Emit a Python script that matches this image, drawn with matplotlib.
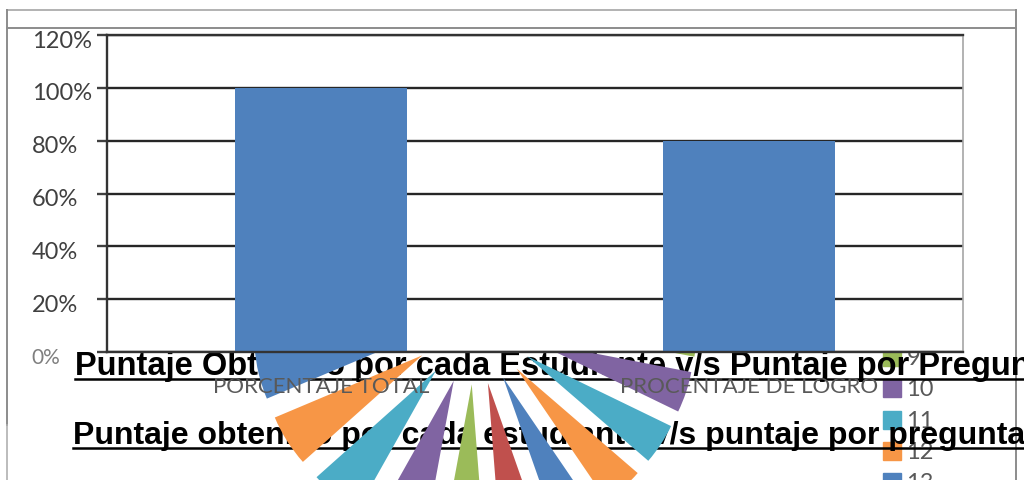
import matplotlib
matplotlib.use('Agg')
import matplotlib.pyplot as plt
from matplotlib.lines import Line2D
from matplotlib.transforms import ScaledTranslation

# bar chart data
categories = ['PORCENTAJE TOTAL', 'PROCENTAJE DE LOGRO']
percentages = [1.00, 0.80]
y_ticks = [0, 0.2, 0.4, 0.6, 0.8, 1.0, 1.2]

# pie chart behind it (one slice per question)
questions = ['1', '2', '3', '4', '5', '6', '7', '8', '9', '10', '11', '12',
             '13', '14', '15', '16', '17', '18', '19', '20', '21', '22', '23', '24']
scores = [14, 14, 14, 14, 14, 14, 14, 14, 14, 15, 15, 15,
          15, 15, 15, 19, 19, 19, 19, 14, 14, 14, 14, 14]

title_1 = 'Puntaje Obtenido por cada Estudiante v/s Puntaje por Pregunta'
title_2 = 'Puntaje obtenido por cada estudiante v/s puntaje por pregunta'

palette = ['#4F81BD', '#C0504D', '#9BBB59', '#8064A2', '#4BACC6', '#F79646']
slice_colors = [palette[i % len(palette)] for i in range(len(questions))]

W, H = 1024, 480
fig = plt.figure(figsize=(W / 100, H / 100), dpi=100)


def box(x0, y0, x1, y1):
    # pixel box measured from the top-left corner -> figure fraction rect
    return [x0 / W, 1 - y1 / H, (x1 - x0) / W, (y1 - y0) / H]


def hline(x0, x1, y, **kw):
    fig.add_artist(Line2D([x0 / W, x1 / W], [1 - y / H, 1 - y / H],
                          transform=fig.transFigure, **kw))


def vline(x, y0, y1, **kw):
    fig.add_artist(Line2D([x / W, x / W], [1 - y0 / H, 1 - y1 / H],
                          transform=fig.transFigure, **kw))


# page / chart frame
hline(7, 1016, 10, color='#a6a6a6', lw=1.2, zorder=0.1)
hline(7, 1016, 28, color='#8c8c8c', lw=1.4, zorder=0.1)
vline(7, 10, 425, color='#8c8c8c', lw=1.4, zorder=0.1)
vline(7, 425, 480, color='#b0b0b0', lw=1.2, zorder=0.1)
vline(1016, 10, 480, color='#8c8c8c', lw=1.4, zorder=0.1)

# legend of the pie (mostly hidden behind the bar chart)
lg = fig.add_axes(box(870, 0, 1010, 480), zorder=0.2)
lg.set_xlim(0, 1)
lg.set_ylim(12.93, -2.41)
lg.axis('off')
for i, q in enumerate(questions):
    lg.plot(0.157, i + 1, marker='s', ms=13.5, color=slice_colors[i], ls='none')
    lg.text(0.26, i + 1.05, q, va='center', ha='left', fontsize=17,
            color='#595959', family='Lato')

# pie chart, exploded
R = 160
L = 1.6
cx, cy = 475, 322
pa = fig.add_axes(box(cx - L * R, cy - L * R, cx + L * R, cy + L * R), zorder=1)
pa.pie(scores, colors=slice_colors, counterclock=False, startangle=114.35,
       explode=[0.39] * len(scores), radius=1, wedgeprops={'linewidth': 0})
pa.set_xlim(-L, L)
pa.set_ylim(-L, L)
pa.set_aspect('equal')
pa.axis('off')

# bold underlined headings
for txt, base, x0, size in [(title_1, 375, 75, 23.5), (title_2, 444, 73, 23)]:
    t = fig.text(x0 / W, 1 - base / H, txt, fontsize=size, fontweight='bold',
                 family='Liberation Sans', va='baseline', ha='left',
                 color='black', zorder=0.5)
    bb = t.get_window_extent(fig.canvas.get_renderer())
    hline(bb.x0, min(bb.x1, W), base + 4, color='black', lw=1.8, zorder=0.5)

# bar chart on top
ax = fig.add_axes(box(107, 35, 963, 352), zorder=2)
ax.set_facecolor('white')
x = range(len(categories))
ax.bar(x, percentages, width=0.4, color='#4F81BD', zorder=2)
ax.set_xlim(-0.5, 1.5)
ax.set_ylim(0, 1.2)
ax.set_yticks(y_ticks)
ax.set_yticklabels([f'{int(round(v * 100))}%' for v in y_ticks])
ax.yaxis.grid(True, color='#262626', lw=1.7)
ax.set_axisbelow(True)
ax.set_xticks(list(x))
ax.set_xticklabels(categories)

ax.spines['right'].set_color('#a6a6a6')
ax.spines['right'].set_linewidth(1.2)
for s in ['top', 'left', 'bottom']:
    ax.spines[s].set_color('#333333')
    ax.spines[s].set_linewidth(1.7)

ax.tick_params(axis='y', direction='out', length=7.2, width=1.7, color='#404040',
               pad=47)
ax.tick_params(axis='x', length=0, pad=18)
for lab in ax.get_yticklabels():
    lab.set_horizontalalignment('left')
    lab.set_fontsize(17)
    lab.set_family('Lato')
    lab.set_color('#404040')
    lab.set_transform(lab.get_transform() + ScaledTranslation(0, -0.04, fig.dpi_scale_trans))
zero = ax.get_yticklabels()[0]
zero.set_fontsize(15)
zero.set_color('#7f7f7f')
for lab in ax.get_xticklabels():
    lab.set_fontsize(16)
    lab.set_family('Lato')
    lab.set_color('#595959')

fig.savefig('out.png', dpi=100)
